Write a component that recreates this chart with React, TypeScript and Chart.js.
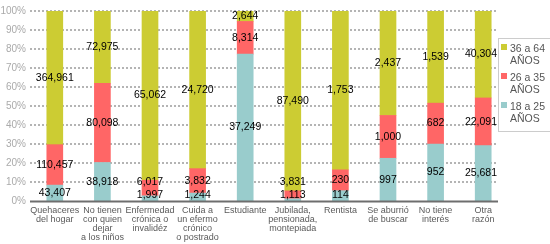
import React, { useEffect, useRef } from "react";
import { Chart, registerables } from "chart.js";

Chart.register(...registerables);

const categories: string[][] = [
  ["Quehaceres", "del hogar"],
  ["No tienen", "con quien", "dejar", "a los niños"],
  ["Enfermedad", "crónica o", "invalidéz"],
  ["Cuida a", "un efermo", "crónico", "o postrado"],
  ["Estudiante"],
  ["Jubilada,", "pensionada,", "montepiada"],
  ["Rentista"],
  ["Se aburrió", "de buscar"],
  ["No tiene", "interés"],
  ["Otra", "razón"],
];

const age18to25 = [43407, 38918, 1997, 1244, 37249, 1113, 114, 997, 952, 25681];
const age26to35 = [110457, 80098, 6017, 3832, 8314, 3831, 230, 1000, 682, 22091];
const age36to64 = [364961, 72975, 65062, 24720, 2644, 87490, 1753, 2437, 1539, 40304];

const seriesNames = ["18 a 25 AÑOS", "26 a 35 AÑOS", "36 a 64 AÑOS"];
const seriesColors = ["#99CCCC", "#FF6666", "#CCCC33"];
const yTicks = [0, 10, 20, 30, 40, 50, 60, 70, 80, 90, 100];

const FONT = "'Liberation Sans', Arial, sans-serif";

export default function App() {
  const ref = useRef<HTMLCanvasElement | null>(null);

  useEffect(() => {
    if (!ref.current) return;
    const raw = [age18to25, age26to35, age36to64];
    const totals = categories.map((_, i) => raw.reduce((s, arr) => s + arr[i], 0));
    const pct = raw.map((arr) => arr.map((v, i) => (v / totals[i]) * 100));
    const GRID_RIGHT = 498;

    const gridPlugin = {
      id: "dottedGrid",
      beforeDatasetsDraw(chart: any) {
        const ctx = chart.ctx;
        const y = chart.scales.y;
        const area = chart.chartArea;
        ctx.save();
        ctx.strokeStyle = "#b4b4b4";
        ctx.lineWidth = 2;
        ctx.setLineDash([2, 2]);
        yTicks.forEach((v) => {
          if (v === 0) return;
          const py = Math.round(y.getPixelForValue(v));
          ctx.beginPath();
          ctx.moveTo(area.left - 1, py);
          ctx.lineTo(GRID_RIGHT, py);
          ctx.stroke();
        });
        ctx.restore();
      },
      afterDatasetsDraw(chart: any) {
        const ctx = chart.ctx;
        const y = chart.scales.y;
        const area = chart.chartArea;
        ctx.save();
        // axis line
        ctx.strokeStyle = "#6e6e6e";
        ctx.lineWidth = 2;
        const py = Math.round(y.getPixelForValue(0)) + 0.5;
        ctx.beginPath();
        ctx.moveTo(area.left - 1, py);
        ctx.lineTo(GRID_RIGHT, py);
        ctx.stroke();

        // legend
        const lx = 498.5, ly = 38.5, lw = 52, lh = 93;
        ctx.fillStyle = "#fff";
        ctx.fillRect(lx, ly, lw, lh);
        ctx.strokeStyle = "#cccccc";
        ctx.lineWidth = 1;
        ctx.strokeRect(lx, ly, lw, lh);
        ctx.font = `10.5px ${FONT}`;
        ctx.textAlign = "left";
        ctx.textBaseline = "middle";
        const order = [2, 1, 0];
        order.forEach((d, k) => {
          const ty = 49 + k * 29;
          ctx.fillStyle = seriesColors[d];
          ctx.fillRect(501, ty - 5, 6, 6);
          ctx.fillStyle = "#555";
          const parts = seriesNames[d].split(" AÑOS");
          ctx.fillText(parts[0], 510, ty);
          ctx.fillText("AÑOS", 510, ty + 12);
        });

        // data labels
        ctx.font = `10.5px ${FONT}`;
        ctx.fillStyle = "#000";
        ctx.textAlign = "center";
        ctx.textBaseline = "middle";
        const axisY = y.getPixelForValue(0);
        categories.forEach((_, i) => {
          let prev = Infinity;
          chart.data.datasets.forEach((ds: any, d: number) => {
            const meta = chart.getDatasetMeta(d);
            const bar = meta.data[i];
            const props = bar.getProps(["x", "y", "base"], true);
            let cy = (props.y + props.base) / 2;
            if (cy > axisY - 6) cy = axisY - 6;
            if (cy > prev - 13) cy = prev - 13;
            prev = cy;
            const text = raw[d][i].toLocaleString("en-US");
            const w = ctx.measureText(text).width;
            let cx = props.x;
            if (cx + w / 2 > GRID_RIGHT - 1) cx = GRID_RIGHT - 1 - w / 2;
            ctx.fillText(text, cx, cy);
          });
        });
        ctx.restore();
      },
    };

    const chart = new Chart(ref.current, {
      type: "bar",
      data: {
        labels: categories,
        datasets: pct.map((arr, d) => ({
          label: seriesNames[d],
          data: arr,
          backgroundColor: seriesColors[d],
          borderWidth: 0,
          barThickness: 16,
        })),
      },
      options: {
        animation: false,
        responsive: false,
        maintainAspectRatio: false,
        layout: { padding: { left: 0, right: 43, top: 6, bottom: 0 } },
        plugins: {
          legend: { display: false },
          tooltip: { enabled: false },
        },
        scales: {
          x: {
            stacked: true,
            grid: { display: false, drawTicks: false },
            border: { display: false },
            ticks: {
              padding: 5,
              color: "#5a5a5a",
              font: { family: FONT, size: 9, lineHeight: 1 },
              maxRotation: 0,
              autoSkip: false,
            },
            afterFit(scale: any) {
              scale.height = 43;
            },
          },
          y: {
            stacked: true,
            min: 0,
            max: 100,
            grid: { display: false, drawTicks: false },
            border: { display: false },
            ticks: {
              stepSize: 10,
              padding: 5,
              color: "#aaaaaa",
              font: { family: FONT, size: 10 },
              callback: (v: any) => `${v}%`,
            },
            afterFit(scale: any) {
              scale.width = 31;
            },
          },
        },
      },
      plugins: [gridPlugin],
    });
    return () => chart.destroy();
  }, []);

  return (
    <div style={{ position: "fixed", left: 0, top: 0, width: 550, height: 244, background: "#fff" }}>
      <canvas ref={ref} width={550} height={244} style={{ width: 550, height: 244, display: "block" }} />
    </div>
  );
}
